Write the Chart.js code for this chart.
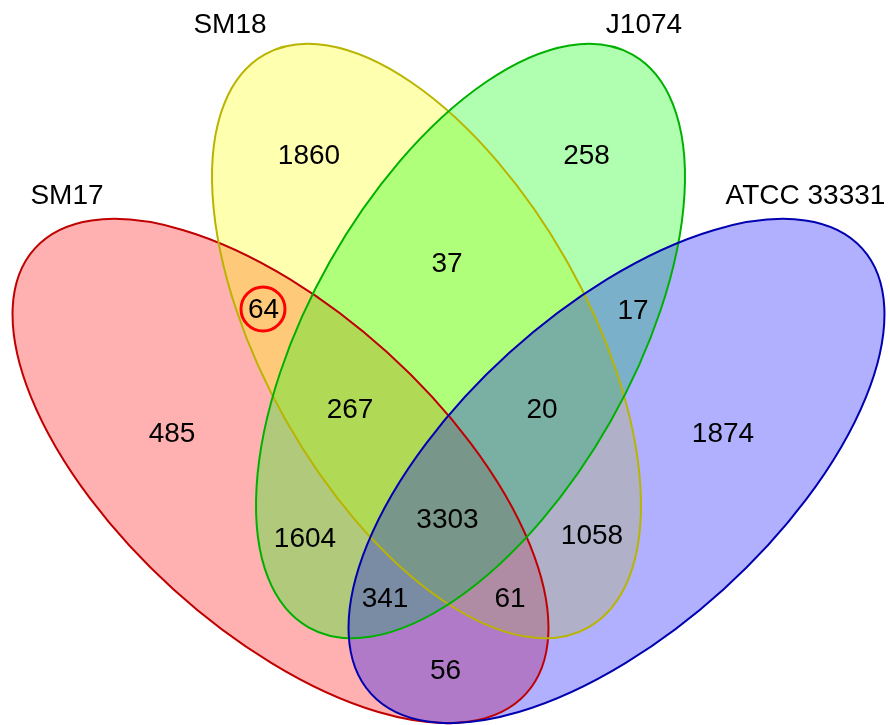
<!DOCTYPE html>
<html>
<head>
<meta charset="utf-8">
<script src="https://cdn.jsdelivr.net/npm/chart.js@4/dist/chart.umd.min.js"></script>
<style>
  html, body { margin: 0; padding: 0; background: #ffffff; }
  #wrap { width: 890px; height: 725px; position: relative; }
</style>
</head>
<body>
<div id="wrap"><canvas id="c"></canvas></div>
<script>
// ---- data ----
const setNames = ['SM17', 'SM18', 'J1074', 'ATCC 33331'];
const regionKeys = ['SM17', 'SM18', 'J1074', 'ATCC',
  'SM17&SM18', 'SM18&J1074', 'J1074&ATCC',
  'SM17&SM18&J1074', 'SM18&J1074&ATCC',
  'ALL',
  'SM17&J1074', 'SM18&ATCC',
  'SM17&J1074&ATCC', 'SM17&SM18&ATCC',
  'SM17&ATCC'];
const regionCounts = [485, 1860, 258, 1874,
  64, 37, 17,
  267, 20,
  3303,
  1604, 1058,
  341, 61,
  56];
const highlighted = ['SM17&SM18'];

// ---- layout (positions / sizes / styles) ----
const setLayout = [
  { cx: 280.5, cy: 471, a: 331.5, b: 159.6, rot: 42.2, fill: 'rgba(255,0,0,0.31)', stroke: '#c00000', lx: 67, ly: 204 },
  { cx: 426.5, cy: 341, a: 329, b: 161.5, rot: 60.5, fill: 'rgba(255,255,0,0.31)', stroke: '#b8b400', lx: 230, ly: 33 },
  { cx: 470.5, cy: 341, a: 329, b: 161.5, rot: -60.5, fill: 'rgba(0,255,0,0.31)', stroke: '#00b000', lx: 644, ly: 33 },
  { cx: 616.5, cy: 471, a: 331.5, b: 159.6, rot: -42.2, fill: 'rgba(0,0,255,0.31)', stroke: '#0000b0', lx: 805.5, ly: 204 }
];
const regionPos = {
  'SM17': [172, 442], 'SM18': [309, 164], 'J1074': [586.5, 164], 'ATCC': [723, 442],
  'SM17&SM18': [263.5, 318], 'SM18&J1074': [447, 272], 'J1074&ATCC': [633, 319],
  'SM17&SM18&J1074': [350, 418], 'SM18&J1074&ATCC': [542, 418],
  'ALL': [447.5, 528],
  'SM17&J1074': [305, 547], 'SM18&ATCC': [592, 544],
  'SM17&J1074&ATCC': [385, 607], 'SM17&SM18&ATCC': [510, 607],
  'SM17&ATCC': [445.5, 679]
};
const FONT = '28px "Liberation Sans", Arial, sans-serif';

const vennPlugin = {
  id: 'venn',
  beforeDatasetsDraw(chart) {
    const ctx = chart.ctx;
    const xs = chart.scales.x, ys = chart.scales.y;
    const unit = Math.abs(xs.getPixelForValue(1) - xs.getPixelForValue(0));
    ctx.save();
    // fills
    setLayout.forEach(s => {
      ctx.beginPath();
      ctx.ellipse(xs.getPixelForValue(s.cx), ys.getPixelForValue(s.cy), s.a * unit, s.b * unit, s.rot * Math.PI / 180, 0, Math.PI * 2);
      ctx.fillStyle = s.fill;
      ctx.fill();
    });
    // outlines
    setLayout.forEach(s => {
      ctx.beginPath();
      ctx.ellipse(xs.getPixelForValue(s.cx), ys.getPixelForValue(s.cy), s.a * unit, s.b * unit, s.rot * Math.PI / 180, 0, Math.PI * 2);
      ctx.strokeStyle = s.stroke;
      ctx.lineWidth = 2;
      ctx.stroke();
    });
    // set names
    ctx.font = FONT;
    ctx.fillStyle = '#000000';
    ctx.textAlign = 'center';
    ctx.textBaseline = 'alphabetic';
    setLayout.forEach((s, i) => {
      ctx.fillText(setNames[i], xs.getPixelForValue(s.lx), ys.getPixelForValue(s.ly));
    });
    ctx.restore();
  },
  afterDatasetsDraw(chart) {
    const ctx = chart.ctx;
    const meta = chart.getDatasetMeta(0);
    ctx.save();
    ctx.font = FONT;
    ctx.fillStyle = '#000000';
    ctx.textAlign = 'center';
    ctx.textBaseline = 'alphabetic';
    meta.data.forEach((el, i) => {
      const key = regionKeys[i];
      ctx.fillText(String(regionCounts[i]), el.x, el.y);
      if (highlighted.includes(key)) {
        ctx.beginPath();
        ctx.arc(el.x - 0.5, el.y - 9, 22, 0, Math.PI * 2);
        ctx.strokeStyle = '#ff0000';
        ctx.lineWidth = 3;
        ctx.stroke();
      }
    });
    ctx.restore();
  }
};

new Chart(document.getElementById('c'), {
  type: 'scatter',
  data: {
    datasets: [{
      label: 'regions',
      data: regionKeys.map((k, i) => ({ x: regionPos[k][0], y: regionPos[k][1], v: regionCounts[i] })),
      pointRadius: 0,
      pointHoverRadius: 0
    }]
  },
  options: {
    responsive: true,
    maintainAspectRatio: false,
    animation: false,
    layout: { padding: 0 },
    plugins: { legend: { display: false }, tooltip: { enabled: false } },
    scales: {
      x: { type: 'linear', min: 0, max: 890, display: false },
      y: { type: 'linear', min: 0, max: 725, reverse: true, display: false }
    }
  },
  plugins: [vennPlugin]
});
</script>
</body>
</html>
